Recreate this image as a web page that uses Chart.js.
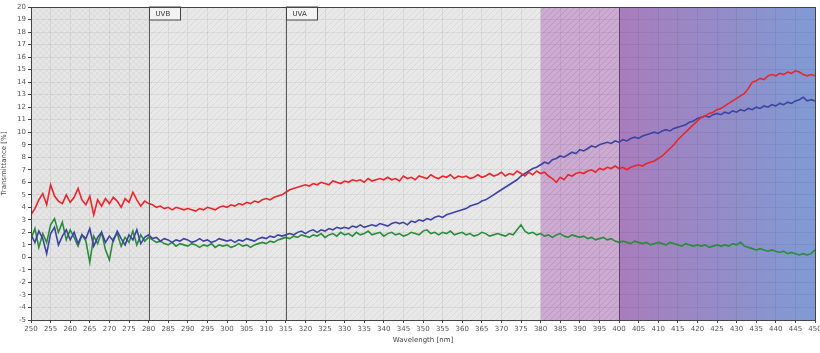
<!DOCTYPE html>
<html>
<head>
<meta charset="utf-8">
<script src="https://cdn.jsdelivr.net/npm/chart.js@4"></script>
<style>
  html, body { margin: 0; padding: 0; background: #fff; }
  #wrap { width: 820px; height: 353px; }
</style>
</head>
<body>
<div id="wrap"><canvas id="chart" width="820" height="353"></canvas></div>
<script>
// wavelength samples [nm]
const wavelengths = [
  250,251,252,253,254,255,256,257,258,259,260,261,262,263,264,265,266,267,268,269,
  270,271,272,273,274,275,276,277,278,279,280,281,282,283,284,285,286,287,288,289,
  290,291,292,293,294,295,296,297,298,299,300,301,302,303,304,305,306,307,308,309,
  310,311,312,313,314,315,316,317,318,319,320,321,322,323,324,325,326,327,328,329,
  330,331,332,333,334,335,336,337,338,339,340,341,342,343,344,345,346,347,348,349,
  350,351,352,353,354,355,356,357,358,359,360,361,362,363,364,365,366,367,368,369,
  370,371,372,373,374,375,376,377,378,379,380,381,382,383,384,385,386,387,388,389,
  390,391,392,393,394,395,396,397,398,399,400,401,402,403,404,405,406,407,408,409,
  410,411,412,413,414,415,416,417,418,419,420,421,422,423,424,425,426,427,428,429,
  430,431,432,433,434,435,436,437,438,439,440,441,442,443,444,445,446,447,448,449,450
];

// transmittance [%]
const redSeries = [
  3.4,3.9,4.6,5.1,4.2,5.8,4.9,4.5,4.3,5.0, 4.4,4.8,5.5,4.6,4.2,4.9,3.4,4.6,4.1,4.7,
  4.3,4.8,4.5,4.0,4.7,4.4,5.2,4.6,4.1,4.5, 4.3,4.2,4.0,4.1,3.9,4.0,3.8,4.0,3.9,3.8,
  3.9,3.8,3.7,3.9,3.8,4.0,3.9,3.8,4.0,4.1, 4.0,4.2,4.1,4.3,4.2,4.4,4.3,4.5,4.4,4.6,
  4.7,4.6,4.8,4.9,5.0,5.2,5.4,5.5,5.6,5.7, 5.8,5.7,5.9,5.8,6.0,5.9,5.8,6.1,6.0,5.9,
  6.1,6.0,6.2,6.1,6.2,6.0,6.3,6.1,6.2,6.3, 6.2,6.4,6.2,6.3,6.1,6.5,6.3,6.4,6.2,6.5,
  6.4,6.3,6.6,6.4,6.3,6.5,6.4,6.6,6.3,6.5, 6.4,6.5,6.3,6.4,6.6,6.4,6.5,6.7,6.5,6.6,
  6.8,6.5,6.7,6.6,6.9,6.7,6.5,6.8,6.6,6.9, 6.7,6.8,6.5,6.3,6.0,6.4,6.2,6.6,6.5,6.7,
  6.8,6.7,6.9,7.0,6.8,7.1,7.0,7.2,7.1,7.3, 7.1,7.2,7.0,7.2,7.3,7.4,7.3,7.5,7.6,7.7,
  7.9,8.1,8.4,8.7,9.0,9.4,9.7,10.0,10.3,10.6, 10.9,11.2,11.3,11.5,11.6,11.8,11.9,12.1,12.3,12.5,
  12.7,12.9,13.1,13.5,14.0,14.1,14.3,14.2,14.5,14.6, 14.5,14.7,14.6,14.8,14.7,14.9,14.8,14.6,14.5,14.6,
  14.5
];
const blueSeries = [
  1.8,1.2,2.1,1.5,0.3,1.9,2.4,1.0,1.7,2.2, 1.4,2.0,1.1,1.8,1.5,2.3,0.9,1.6,2.0,1.2,
  1.7,1.3,2.1,1.5,1.0,1.8,1.4,2.2,1.1,1.6, 1.8,1.5,1.6,1.3,1.5,1.4,1.2,1.4,1.3,1.5,
  1.4,1.2,1.3,1.5,1.3,1.4,1.2,1.3,1.5,1.4, 1.3,1.4,1.2,1.4,1.3,1.5,1.4,1.3,1.5,1.6,
  1.5,1.7,1.6,1.8,1.7,1.8,1.9,1.8,2.0,2.1, 1.9,2.1,2.2,2.0,2.2,2.1,2.3,2.2,2.4,2.3,
  2.4,2.3,2.5,2.4,2.6,2.4,2.5,2.6,2.5,2.7, 2.6,2.5,2.7,2.8,2.7,2.8,2.6,2.9,2.8,3.0,
  2.9,3.1,3.0,3.2,3.3,3.2,3.4,3.5,3.6,3.7, 3.8,3.9,4.1,4.2,4.3,4.5,4.6,4.8,5.0,5.2,
  5.4,5.6,5.8,6.0,6.2,6.5,6.7,6.9,7.1,7.2, 7.4,7.6,7.5,7.8,7.9,8.1,8.0,8.2,8.4,8.3,
  8.6,8.5,8.7,8.9,8.8,9.0,9.1,9.2,9.1,9.3, 9.2,9.4,9.3,9.5,9.6,9.5,9.7,9.8,9.9,10.0,
  9.9,10.1,10.2,10.1,10.3,10.4,10.5,10.6,10.8,10.9, 11.1,11.2,11.3,11.2,11.4,11.5,11.4,11.6,11.5,11.7,
  11.6,11.8,11.7,11.9,11.8,12.0,11.9,12.1,12.0,12.2, 12.1,12.3,12.2,12.4,12.3,12.5,12.6,12.8,12.5,12.6,
  12.5
];
const greenSeries = [
  1.5,2.3,0.8,1.9,1.2,2.6,3.1,2.0,2.8,1.4, 2.2,1.6,0.9,1.8,1.3,-0.4,1.7,1.1,2.0,0.6,
  -0.2,1.5,1.9,0.9,1.6,1.2,2.1,1.0,1.8,1.3, 1.6,1.4,1.2,1.3,1.1,1.0,1.2,0.9,1.1,1.0,
  0.9,1.1,1.0,0.8,1.0,0.9,1.1,0.8,1.0,0.9, 1.0,0.8,0.9,1.1,0.9,1.0,0.8,1.0,1.1,1.2,
  1.1,1.3,1.2,1.4,1.5,1.6,1.5,1.7,1.6,1.8, 1.7,1.6,1.8,1.7,1.9,1.6,1.8,1.9,1.7,2.0,
  1.8,1.9,1.7,2.0,1.8,1.9,2.1,1.8,1.9,2.0, 1.7,1.9,2.0,1.8,1.9,1.7,1.8,2.0,1.9,1.8,
  2.1,2.2,1.9,2.0,1.8,2.0,1.9,2.1,1.8,1.9, 2.0,1.8,1.9,1.7,1.8,2.0,1.9,1.7,1.8,1.9,
  1.8,1.7,1.9,1.8,2.2,2.6,2.1,1.9,2.0,1.8, 1.9,1.7,1.8,1.6,1.8,1.9,1.7,1.6,1.8,1.7,
  1.6,1.7,1.5,1.6,1.4,1.5,1.6,1.4,1.5,1.3, 1.2,1.3,1.2,1.1,1.3,1.2,1.1,1.2,1.0,1.1,
  1.2,1.1,1.0,1.2,1.1,1.0,0.9,1.1,1.0,0.9, 1.0,0.9,1.0,0.8,0.9,1.0,0.9,1.0,0.9,1.1,
  1.0,1.2,0.9,0.8,0.7,0.6,0.7,0.6,0.5,0.6, 0.5,0.4,0.5,0.3,0.4,0.3,0.2,0.3,0.2,0.3,
  0.6
];

// spectral bands and marker lines
const bandEdges = [250, 280, 380, 400, 450];
const markerLines = [280, 315, 400];
const markerLabels = [{ at: 280, text: 'UVB' }, { at: 315, text: 'UVA' }];

function toPoints(values) {
  return values.map((v, i) => ({ x: wavelengths[i], y: v }));
}

function makePattern(ctx, kind, base, line) {
  const c = document.createElement('canvas');
  c.width = 6; c.height = 6;
  const p = c.getContext('2d');
  p.fillStyle = base;
  p.fillRect(0, 0, 6, 6);
  p.fillStyle = line;
  if (kind === 'checker') {
    p.fillRect(0, 0, 3, 3);
    p.fillRect(3, 3, 3, 3);
  } else {
    for (let i = 0; i < 6; i++) p.fillRect(i, 5 - i, 1, 1);
  }
  return ctx.createPattern(c, 'repeat');
}

const bandsPlugin = {
  id: 'bands',
  beforeDraw(chart) {
    const { ctx, chartArea: a, scales: { x } } = chart;
    const px = v => x.getPixelForValue(v);
    ctx.save();
    ctx.fillStyle = makePattern(ctx, 'checker', '#e6e6e6', '#dedede');
    ctx.fillRect(px(bandEdges[0]), a.top, px(bandEdges[1]) - px(bandEdges[0]), a.height);
    ctx.fillStyle = makePattern(ctx, 'hatch', '#e8e8e8', '#dcdcdc');
    ctx.fillRect(px(bandEdges[1]), a.top, px(bandEdges[2]) - px(bandEdges[1]), a.height);
    ctx.fillStyle = makePattern(ctx, 'hatch', '#ccabd0', '#c09ac6');
    ctx.fillRect(px(bandEdges[2]), a.top, px(bandEdges[3]) - px(bandEdges[2]), a.height);
    const g = ctx.createLinearGradient(px(bandEdges[3]), 0, px(bandEdges[4]), 0);
    g.addColorStop(0, '#aa7cbc');
    g.addColorStop(1, '#7f9bd4');
    ctx.fillStyle = g;
    ctx.fillRect(px(bandEdges[3]), a.top, px(bandEdges[4]) - px(bandEdges[3]), a.height);
    ctx.restore();
  },
  afterDatasetsDraw(chart) {
    const { ctx, chartArea: a, scales: { x } } = chart;
    ctx.save();
    markerLines.forEach(v => {
      const xp = Math.round(x.getPixelForValue(v)) + 0.5;
      ctx.strokeStyle = v === 400 ? '#5a3f78' : '#5a5a5a';
      ctx.lineWidth = 1;
      ctx.beginPath();
      ctx.moveTo(xp, a.top);
      ctx.lineTo(xp, a.bottom);
      ctx.stroke();
    });
    ctx.font = '7px "DejaVu Sans", sans-serif';
    ctx.textBaseline = 'middle';
    markerLabels.forEach(m => {
      const xp = Math.round(x.getPixelForValue(m.at)) + 0.5;
      ctx.fillStyle = '#f2f2f2';
      ctx.fillRect(xp, a.top, 31, 13);
      ctx.strokeStyle = '#444';
      ctx.strokeRect(xp, a.top, 31, 13);
      ctx.fillStyle = '#333';
      ctx.fillText(m.text, xp + 6, a.top + 7);
    });
    ctx.strokeStyle = '#444';
    ctx.strokeRect(Math.round(a.left) + 0.5, Math.round(a.top) + 0.5, Math.round(a.width), Math.round(a.height));
    ctx.restore();
  }
};

const tickFont = { family: '"DejaVu Sans", sans-serif', size: 7 };

new Chart(document.getElementById('chart').getContext('2d'), {
  type: 'line',
  data: {
    datasets: [
      { label: 'red', data: toPoints(redSeries), borderColor: '#e8262c', borderWidth: 1.6 },
      { label: 'blue', data: toPoints(blueSeries), borderColor: '#3d43a3', borderWidth: 1.6 },
      { label: 'green', data: toPoints(greenSeries), borderColor: '#2b8c3c', borderWidth: 1.6 }
    ]
  },
  options: {
    responsive: false,
    animation: false,
    layout: { padding: { top: 7, right: 5, left: 0, bottom: 8 } },
    elements: { point: { radius: 0 }, line: { tension: 0 } },
    plugins: { legend: { display: false }, tooltip: { enabled: false } },
    scales: {
      x: {
        type: 'linear',
        min: 250,
        max: 450,
        ticks: { stepSize: 5, autoSkip: false, maxRotation: 0, font: tickFont, color: '#555', padding: 2 },
        grid: { color: 'rgba(0,0,0,0.06)', tickLength: 3, tickColor: '#444' },
        border: { color: '#444' },
        title: { display: true, text: 'Wavelength [nm]', font: tickFont, color: '#444', padding: 1 },
        afterFit(s) { s.height = 25; s.paddingRight = 0; s.paddingLeft = 0; }
      },
      y: {
        min: -5,
        max: 20,
        ticks: { stepSize: 1, font: tickFont, color: '#555', padding: 2 },
        grid: { color: 'rgba(0,0,0,0.06)', tickLength: 3, tickColor: '#444' },
        border: { color: '#444' },
        title: { display: true, text: 'Transmittance [%]', font: tickFont, color: '#444', padding: 0 },
        afterFit(s) { s.width = 31; }
      }
    }
  },
  plugins: [bandsPlugin]
});
</script>
</body>
</html>
